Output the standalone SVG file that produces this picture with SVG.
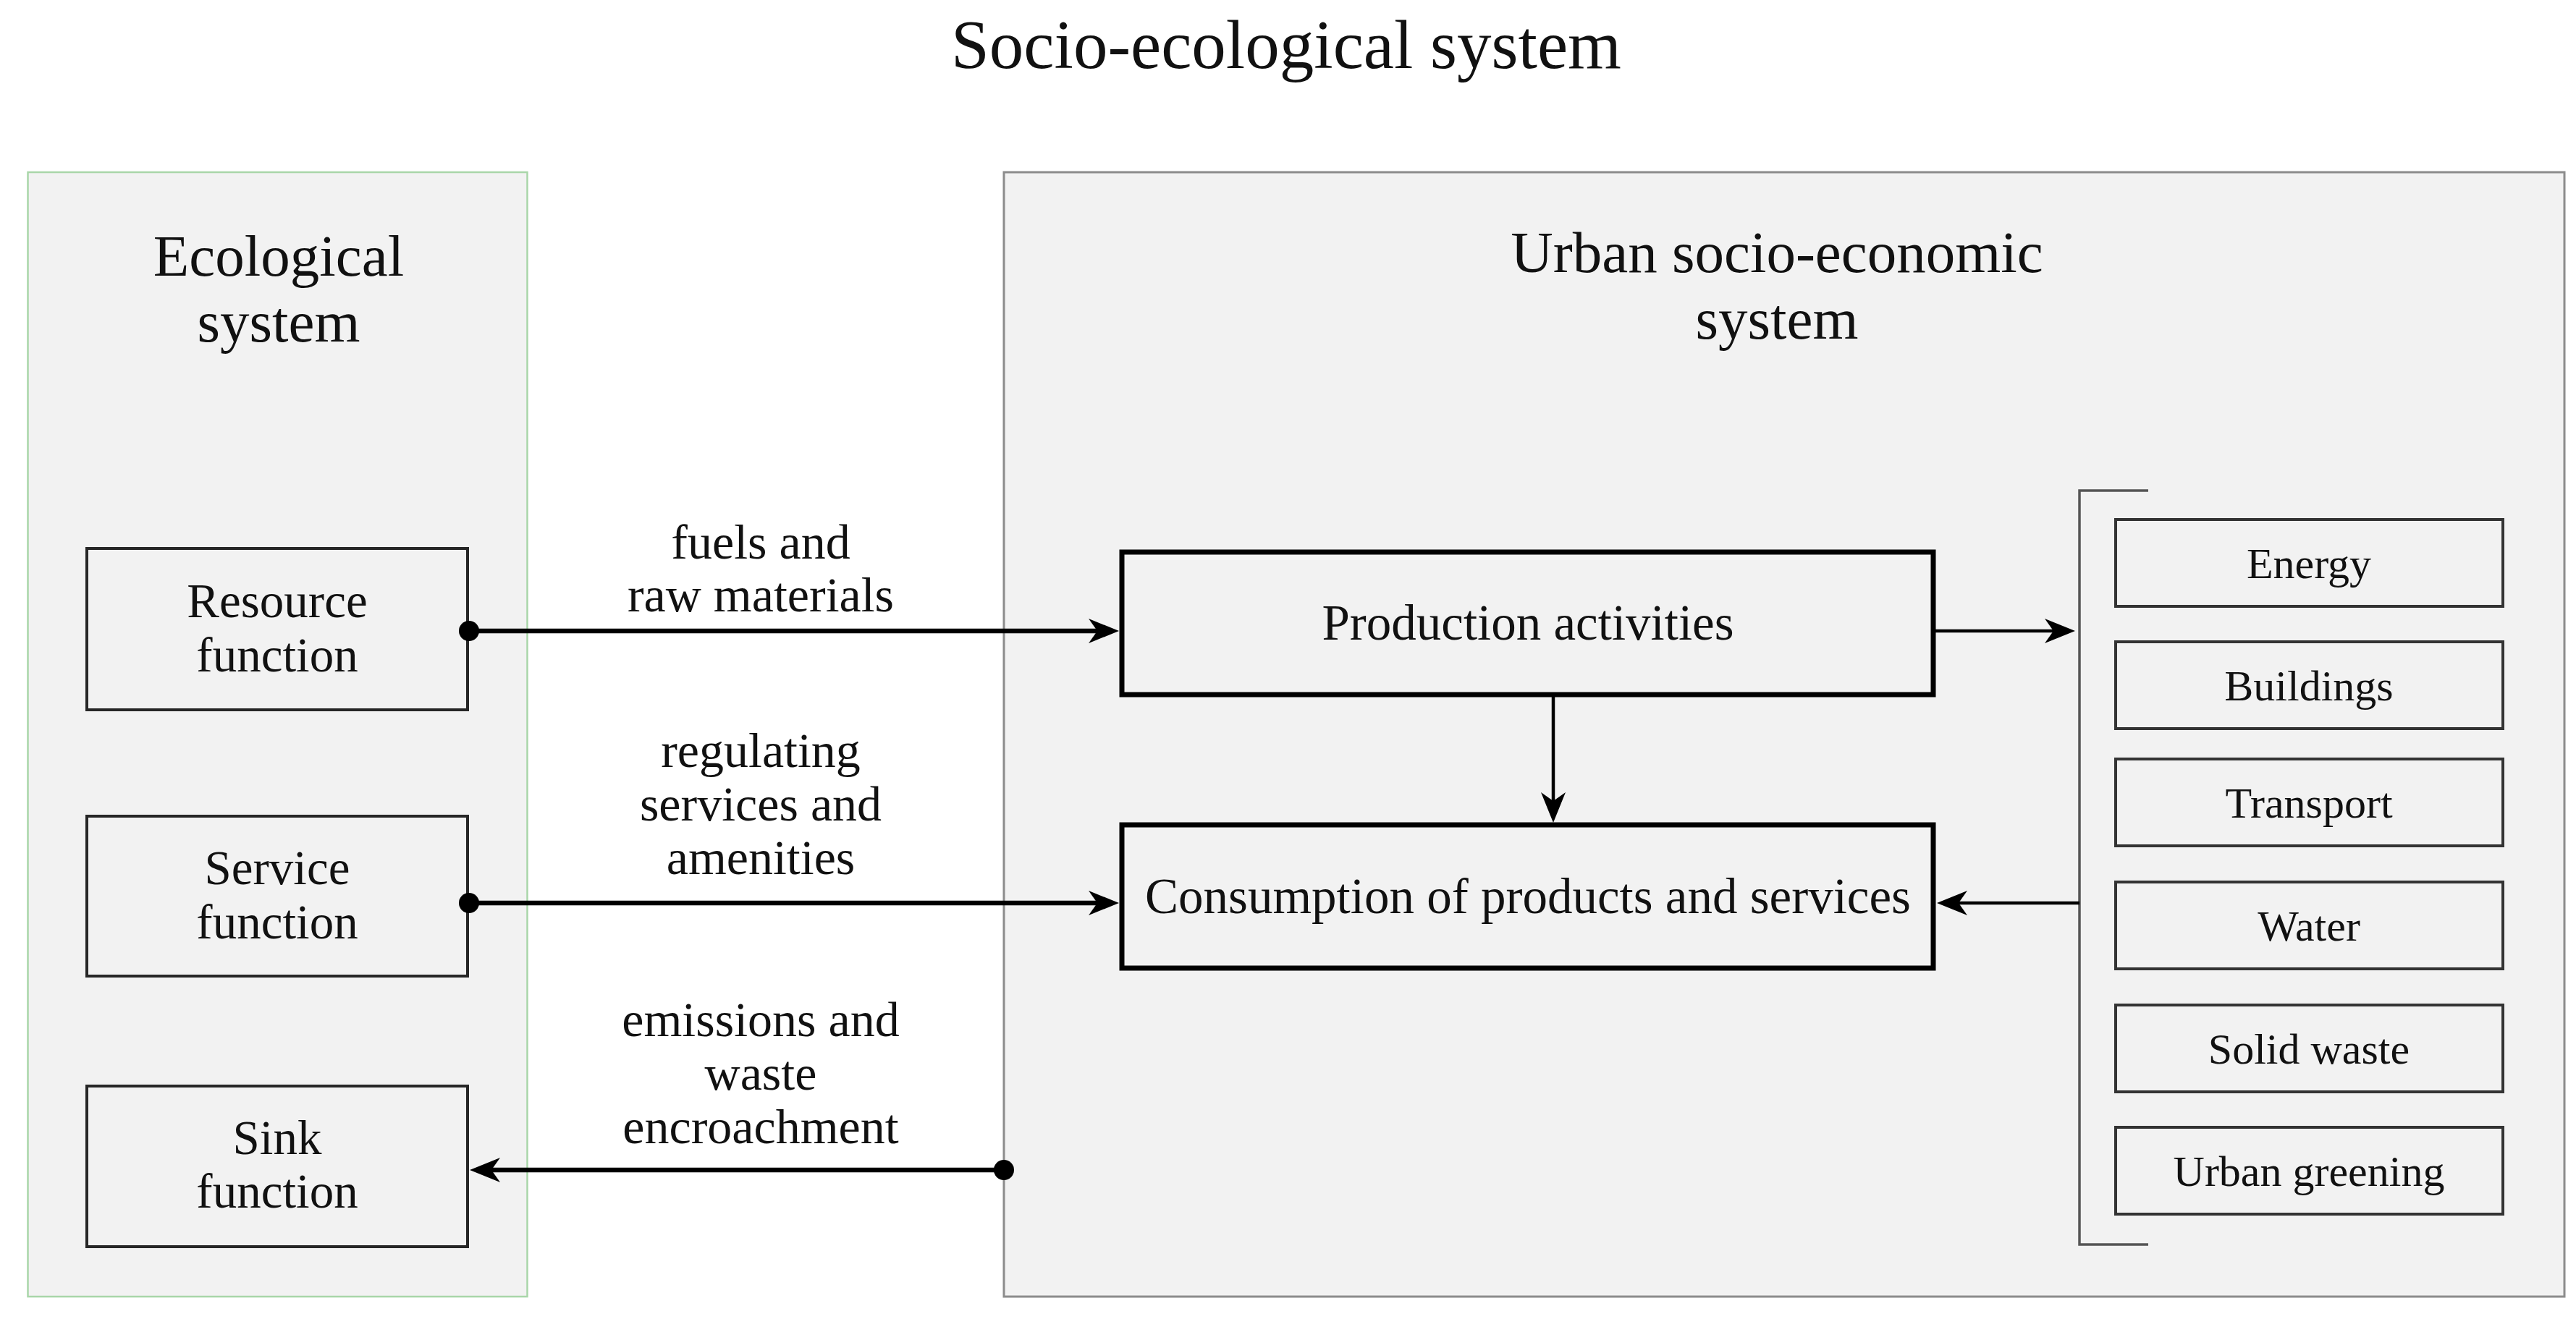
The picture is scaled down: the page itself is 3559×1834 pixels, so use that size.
<svg xmlns="http://www.w3.org/2000/svg" width="3559" height="1834" viewBox="0 0 3559 1834">
<defs>
<style>
text{font-family:"Liberation Serif","Times New Roman",serif;fill:#111;text-anchor:middle}
.title{font-size:95px}
.sys{font-size:81px}
.fn{font-size:67px}
.lbl{font-size:68px}
.main{font-size:69px}
.cat{font-size:60px}
.fnbox{fill:#f2f2f2;stroke:#262626;stroke-width:4}
.mainbox{fill:#f2f2f2;stroke:#000;stroke-width:7}
.catbox{fill:#f2f2f2;stroke:#333;stroke-width:4}
.thick{fill:none;stroke:#000;stroke-width:6.5}
.thin{fill:none;stroke:#000;stroke-width:4.5}
</style>
<marker id="ah" viewBox="-46 -20 48 40" markerWidth="48" markerHeight="40" refX="-25" refY="0" orient="auto" markerUnits="userSpaceOnUse">
<path d="M0,0 L-42,-17 L-30,0 L-42,17 Z" fill="#000"/>
</marker>
</defs>
<rect width="3559" height="1834" fill="#fff"/>
<text class="title" x="1777" y="94">Socio-ecological system</text>

<g id="ecological-system">
<rect x="38.5" y="238" width="690" height="1554" fill="#f2f2f2" stroke="#a9d6a9" stroke-width="2.5"/>
<text class="sys" x="385" y="381">Ecological</text>
<text class="sys" x="385" y="472">system</text>
</g>
<g id="urban-system">
<rect x="1387" y="238" width="2156" height="1554" fill="#f2f2f2" stroke="#8c8c8c" stroke-width="3"/>
<text class="sys" x="2455" y="376">Urban socio-economic</text>
<text class="sys" x="2455" y="468">system</text>
</g>

<g id="resource-function">
<rect class="fnbox" x="120" y="758" width="526" height="223"/>
<text class="fn" x="383" y="853">Resource</text>
<text class="fn" x="383" y="928">function</text>
</g>
<g id="service-function">
<rect class="fnbox" x="120" y="1128" width="526" height="221"/>
<text class="fn" x="383" y="1222">Service</text>
<text class="fn" x="383" y="1297">function</text>
</g>
<g id="sink-function">
<rect class="fnbox" x="120" y="1501" width="526" height="222"/>
<text class="fn" x="383" y="1595">Sink</text>
<text class="fn" x="383" y="1669">function</text>
</g>

<g id="production">
<rect class="mainbox" x="1550" y="763" width="1121" height="197"/>
<text class="main" x="2111" y="884">Production activities</text>
</g>
<g id="consumption">
<rect class="mainbox" x="1550" y="1140" width="1121" height="198"/>
<text class="main" x="2111" y="1262">Consumption of products and services</text>
</g>

<g id="sectors">
<path d="M2968,678 H2873 V1720 H2968" fill="none" stroke="#555" stroke-width="3.5"/>
</g>
<g id="energy"><rect class="catbox" x="2923" y="718" width="535" height="120"/><text class="cat" x="3190" y="799">Energy</text></g>
<g id="buildings"><rect class="catbox" x="2923" y="887" width="535" height="120"/><text class="cat" x="3190" y="968">Buildings</text></g>
<g id="transport"><rect class="catbox" x="2923" y="1049" width="535" height="120"/><text class="cat" x="3190" y="1130">Transport</text></g>
<g id="water"><rect class="catbox" x="2923" y="1219" width="535" height="120"/><text class="cat" x="3190" y="1300">Water</text></g>
<g id="solid-waste"><rect class="catbox" x="2923" y="1389" width="535" height="120"/><text class="cat" x="3190" y="1470">Solid waste</text></g>
<g id="urban-greening"><rect class="catbox" x="2923" y="1558" width="535" height="120"/><text class="cat" x="3190" y="1639">Urban greening</text></g>

<g id="connectors">
<path class="thick" d="M648,872 H1521" marker-end="url(#ah)"/>
<circle cx="648" cy="872" r="14" fill="#000"/>
<text class="lbl" x="1051" y="772">fuels and</text>
<text class="lbl" x="1051" y="845">raw materials</text>

<path class="thick" d="M648,1248 H1521" marker-end="url(#ah)"/>
<circle cx="648" cy="1248" r="14" fill="#000"/>
<text class="lbl" x="1051" y="1060">regulating</text>
<text class="lbl" x="1051" y="1134">services and</text>
<text class="lbl" x="1051" y="1208">amenities</text>

<path class="thick" d="M1387,1617 H674" marker-end="url(#ah)"/>
<circle cx="1387" cy="1617" r="14" fill="#000"/>
<text class="lbl" x="1051" y="1432">emissions and</text>
<text class="lbl" x="1051" y="1506">waste</text>
<text class="lbl" x="1051" y="1580">encroachment</text>

<path class="thin" d="M2671,872 H2842" marker-end="url(#ah)"/>
<path class="thin" d="M2146,960 V1112" marker-end="url(#ah)"/>
<path class="thin" d="M2873,1248 H2701" marker-end="url(#ah)"/>
</g>
</svg>
